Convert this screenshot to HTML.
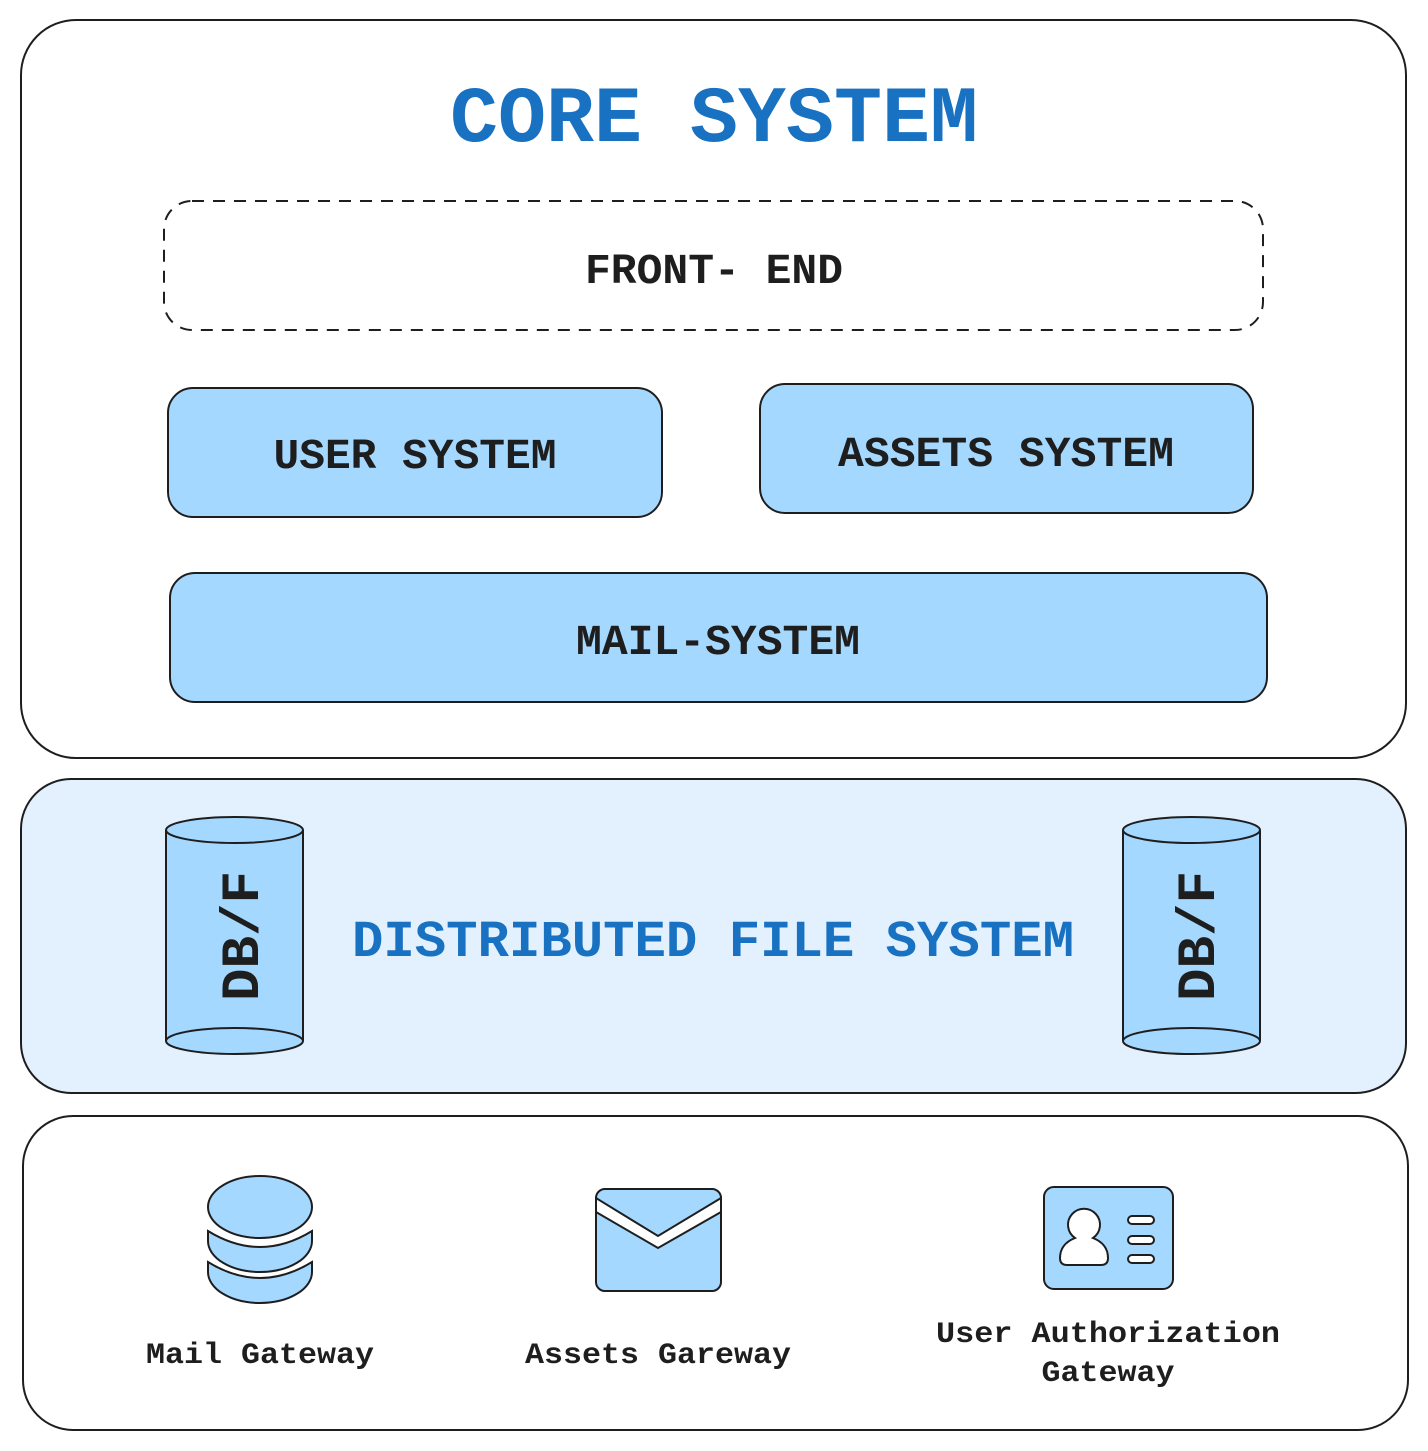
<!DOCTYPE html>
<html><head><meta charset="utf-8"><style>html,body{margin:0;padding:0;background:#fff}svg{display:block}</style></head>
<body>
<svg width="1428" height="1451" viewBox="0 0 1428 1451" xmlns="http://www.w3.org/2000/svg" font-family="'Liberation Mono', monospace" font-weight="bold">
<rect x="21" y="20" width="1385" height="738" rx="55" fill="#fff" stroke="#1e1e1e" stroke-width="2"/>
<text x="714" y="141" text-anchor="middle" font-size="80" fill="#1971c2" textLength="528" lengthAdjust="spacingAndGlyphs">CORE SYSTEM</text>
<rect x="164" y="201" width="1099" height="129" rx="28" fill="none" stroke="#1e1e1e" stroke-width="2" stroke-dasharray="12 9"/>
<text x="714" y="283" text-anchor="middle" font-size="43" fill="#1e1e1e" textLength="258" lengthAdjust="spacingAndGlyphs">FRONT- END</text>
<rect x="168" y="388" width="494" height="129" rx="25" fill="#a5d8ff" stroke="#1e1e1e" stroke-width="2"/>
<text x="415" y="468" text-anchor="middle" font-size="43" fill="#1e1e1e" textLength="283" lengthAdjust="spacingAndGlyphs">USER SYSTEM</text>
<rect x="760" y="384" width="493" height="129" rx="25" fill="#a5d8ff" stroke="#1e1e1e" stroke-width="2"/>
<text x="1006" y="466" text-anchor="middle" font-size="43" fill="#1e1e1e" textLength="336" lengthAdjust="spacingAndGlyphs">ASSETS SYSTEM</text>
<rect x="170" y="573" width="1097" height="129" rx="25" fill="#a5d8ff" stroke="#1e1e1e" stroke-width="2"/>
<text x="718" y="654" text-anchor="middle" font-size="43" fill="#1e1e1e" textLength="284" lengthAdjust="spacingAndGlyphs">MAIL-SYSTEM</text>

<rect x="21" y="779" width="1385" height="314" rx="50" fill="#e3f1fe" stroke="#1e1e1e" stroke-width="2"/>
<text x="713" y="956" text-anchor="middle" font-size="52" fill="#1971c2" textLength="722" lengthAdjust="spacingAndGlyphs">DISTRIBUTED FILE SYSTEM</text>
<g stroke="#1e1e1e" stroke-width="2" fill="#a5d8ff">
<path d="M166,830 L166,1041 A68.5,13 0 0 0 303,1041 L303,830"/>
<ellipse cx="234.5" cy="830" rx="68.5" ry="13"/>
<path d="M166,1041 A68.5,13 0 0 1 303,1041" fill="none"/>
<path d="M1123,830 L1123,1041 A68.5,13 0 0 0 1260,1041 L1260,830"/>
<ellipse cx="1191.5" cy="830" rx="68.5" ry="13"/>
<path d="M1123,1041 A68.5,13 0 0 1 1260,1041" fill="none"/>
</g>
<text transform="translate(258,936) rotate(-90)" text-anchor="middle" font-size="54" fill="#1e1e1e" textLength="130" lengthAdjust="spacingAndGlyphs">DB/F</text>
<text transform="translate(1214,936) rotate(-90)" text-anchor="middle" font-size="54" fill="#1e1e1e" textLength="130" lengthAdjust="spacingAndGlyphs">DB/F</text>

<rect x="23" y="1116" width="1385" height="314" rx="50" fill="#fff" stroke="#1e1e1e" stroke-width="2"/>
<g stroke="#1e1e1e" stroke-width="2" fill="#a5d8ff">
<path d="M208,1293 Q260,1325 312,1293 L312,1303 A52,31 0 0 1 208,1303 Z" transform="translate(0,-31)"/>
<path d="M208,1293 Q260,1325 312,1293 L312,1303 A52,31 0 0 1 208,1303 Z" transform="translate(0,-62)"/>
<ellipse cx="260" cy="1207" rx="52" ry="31"/>
<rect x="596" y="1189" width="125" height="102" rx="9"/>
<path d="M596,1212 L658,1248 L721,1212 L721,1198 L658,1236 L596,1198 Z" fill="#fff"/>
<rect x="1044" y="1187" width="129" height="102" rx="10"/>
<path d="M1075,1238 A16,16 0 1 1 1093,1238 Q1108,1244 1108,1258 Q1108,1265 1101,1265 L1067,1265 Q1060,1265 1060,1258 Q1060,1244 1075,1238 Z" fill="#fff"/>
<rect x="1128" y="1216" width="26" height="8" rx="4" fill="#fff"/>
<rect x="1128" y="1236" width="26" height="8" rx="4" fill="#fff"/>
<rect x="1128" y="1255" width="26" height="8" rx="4" fill="#fff"/>
</g>
<g font-size="30" fill="#1e1e1e" text-anchor="middle">
<text x="260" y="1363" textLength="228" lengthAdjust="spacingAndGlyphs">Mail Gateway</text>
<text x="658" y="1363" textLength="266" lengthAdjust="spacingAndGlyphs">Assets Gareway</text>
<text x="1108" y="1342" textLength="344" lengthAdjust="spacingAndGlyphs">User Authorization</text>
<text x="1108" y="1381" textLength="133" lengthAdjust="spacingAndGlyphs">Gateway</text>
</g>
</svg>
</body></html>
